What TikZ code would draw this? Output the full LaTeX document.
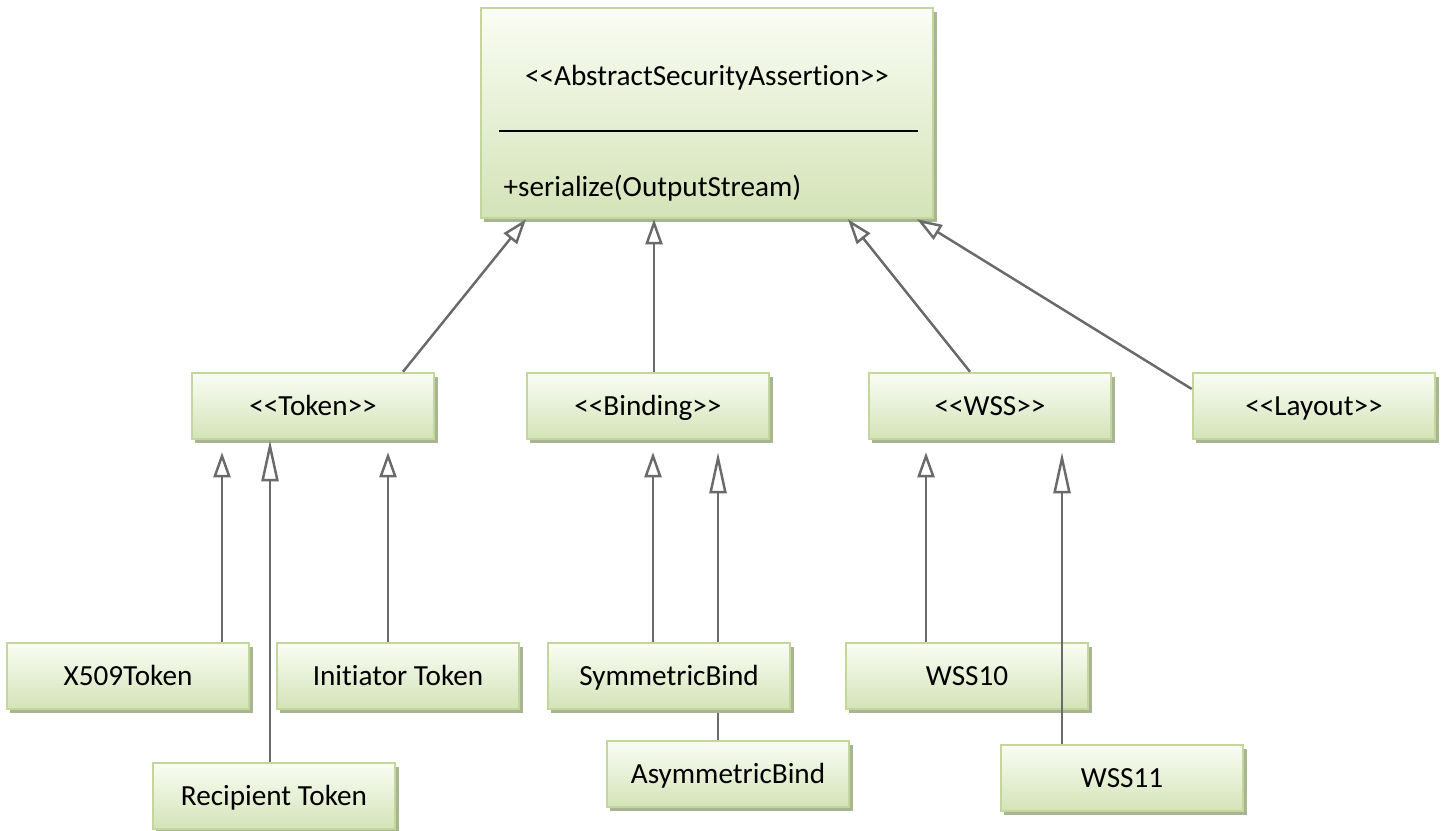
\documentclass[tikz,border=0pt]{standalone}
\usepackage{fontspec}
\setmainfont{Carlito}[Ligatures={TeX,NoCommon}]
\usetikzlibrary{arrows.meta,shadows}

\definecolor{boxtop}{HTML}{FAFDF4}
\definecolor{boxbot}{HTML}{D4E3B8}
\definecolor{boxline}{HTML}{C3D69B}
\definecolor{boxshadow}{HTML}{A7B593}
\definecolor{linkgray}{HTML}{6A6A6A}

% stereotype brackets, kept apart so << and >> do not become guillemets
\newcommand\stereo[1]{<\kern0pt<#1>\kern0pt>}

\begin{document}
\begin{tikzpicture}[
    x=0.01cm, y=-0.01cm,
    font=\fontsize{8.3}{10}\selectfont,
    every node/.style={font=\fontsize{8.3}{10}\selectfont},
    cls/.style={draw=boxline, line width=0.7pt,
      top color=boxtop, bottom color=boxbot,
      minimum width=2.42cm, minimum height=0.66cm, inner sep=0pt,
      text height=1.55ex, text depth=0.45ex,
      drop shadow={shadow xshift=0.035cm, shadow yshift=-0.04cm,
        fill=boxshadow, opacity=1}},
    gen/.style={draw=linkgray, line width=0.7pt,
      -{Triangle[open,length=0.25cm,width=0.17cm]}},
    genlong/.style={gen, -{Triangle[open,length=0.41cm,width=0.17cm]}},
    gap/.style={shorten >=0.12cm},
  ]

  % picture size in pixels of the reference: 1442 x 831
  \useasboundingbox (0,0) rectangle (1442,831);

  % ------------------------------------------------------------------
  % Abstract base class: name, separator, one operation
  % ------------------------------------------------------------------
  \node[cls, minimum width=4.52cm, minimum height=2.10cm] (top) at (707,113) {};
  \node (toptitle) at (707,78) {\stereo{AbstractSecurityAssertion}};
  \draw[black, line width=0.6pt] (499,131) -- (918,131);
  \node[anchor=west, inner sep=0pt] (topop) at (503,188) {+serialize(OutputStream)};

  % ------------------------------------------------------------------
  % Second row: the four stereotypes
  % ------------------------------------------------------------------
  \node[cls] (token)   at (313,406)  {\stereo{Token}};
  \node[cls] (binding) at (648,406)  {\stereo{Binding}};
  \node[cls] (wss)     at (990,406)  {\stereo{WSS}};
  \node[cls] (layout)  at (1314,406) {\stereo{Layout}};

  \draw[gen] (token.north -| 403,0)   -- (top.south -| 526,0);
  \draw[gen] (binding.north -| 654,0) -- (top.south -| 654,0);
  \draw[gen] (wss.north -| 970,0)     -- (top.south -| 848,0);
  \draw[gen] (layout.west |- 0,389)   -- (top.south -| 917,0);

  % ------------------------------------------------------------------
  % Concrete classes; the AsymmetricBind link runs behind SymmetricBind
  % ------------------------------------------------------------------
  \node[cls] (x509)      at (128,676)  {X509Token};
  \node[cls] (initiator) at (398,676)  {Initiator Token};
  \node[cls] (recipient) at (274,796)  {Recipient Token};
  \node[cls] (asymm)     at (728,774)  {AsymmetricBind};
  \draw[genlong, gap] (asymm.north -| 718,0) -- (binding.south -| 718,0);
  \node[cls] (symm)      at (669,676)  {SymmetricBind};
  \node[cls] (wss10)     at (967,676)  {WSS10};
  \node[cls] (wss11)     at (1122,778) {WSS11};

  \draw[gen, gap] (x509.north -| 222,0)      -- (token.south -| 222,0);
  \draw[genlong]  (recipient.north -| 270,0) -- (token.south -| 270,0);
  \draw[gen, gap] (initiator.north -| 388,0) -- (token.south -| 388,0);
  \draw[gen, gap] (symm.north -| 653,0)      -- (binding.south -| 653,0);
  \draw[gen, gap] (wss10.north -| 926,0)     -- (wss.south -| 926,0);
  \draw[genlong, gap] (wss11.north -| 1062,0) -- (wss.south -| 1062,0);

\end{tikzpicture}
\end{document}
